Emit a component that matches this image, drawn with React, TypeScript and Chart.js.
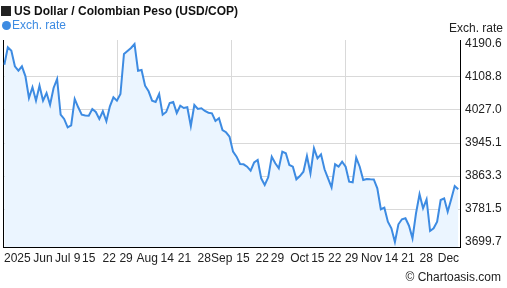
import React, { useEffect, useRef } from "react";
import { Chart, registerables } from "chart.js";

Chart.register(...registerables);

const rates = [
  4139.3, 4182.4, 4174.0, 4135.3, 4124.4, 4135.3, 4110.5, 4056.7, 4083.3, 4050.0,
  4087.2, 4050.0, 4069.1, 4040.1, 4081.5, 4103.8, 4015.3, 4004.7, 3984.1, 3989.0,
  4054.3, 4033.7, 4015.3, 4013.3, 4012.9, 4029.5, 4022.0, 4004.7, 4023.8, 3999.0,
  4036.2, 4058.5, 4050.0, 4066.6, 4165.8, 4173.3, 4180.7, 4190.6, 4124.4, 4126.2,
  4087.2, 4073.3, 4050.0, 4046.8, 4066.6, 4015.3, 4022.0, 4044.3, 4046.8, 4019.5,
  4037.6, 4031.9, 4033.7, 3987.3, 4039.4, 4029.5, 4031.2, 4024.5, 4020.3, 4018.8,
  3999.7, 4006.4, 3977.4, 3971.7, 3960.8, 3923.6, 3911.2, 3893.1, 3892.3, 3886.4,
  3876.5, 3897.3, 3903.0, 3857.6, 3841.0, 3860.1, 3911.2, 3894.8, 3882.4, 3923.6,
  3919.6, 3890.6, 3886.4, 3855.2, 3863.3, 3874.0, 3912.9, 3870.0, 3932.0, 3907.2,
  3917.1, 3880.0, 3857.6, 3835.3, 3892.3, 3886.4, 3898.8, 3886.4, 3849.2, 3847.7,
  3908.7, 3886.4, 3853.4, 3855.9, 3855.2, 3854.7, 3832.8, 3780.8, 3784.7, 3750.0,
  3733.7, 3699.7, 3743.6, 3756.0, 3758.5, 3740.1, 3708.9, 3770.9, 3818.0, 3783.3,
  3805.6, 3727.0, 3733.7, 3750.0, 3803.8, 3808.0, 3774.8, 3805.6, 3838.5, 3830.4,
];

const yTicks = [3699.7, 3781.5, 3863.3, 3945.1, 4027.0, 4108.8, 4190.6];
const yMin = 3687.3;
const yMax = 4200.5;

const xMin = -0.3;
const xMax = 129.5;
const xTickPos = [
  3.7, 11.0, 16.6, 20.7, 24.0, 29.8, 34.6, 40.6, 46.3, 51.2, 56.8, 61.8,
  67.8, 73.3, 77.6, 83.9, 89.1, 93.9, 98.7, 104.4, 110.0, 114.7, 119.9, 126.2,
];
const xTickLabels = [
  "2025", "Jun", "Jul", "9", "15", "22", "29", "Aug", "14", "21", "28", "Sep",
  "15", "22", "29", "Oct", "15", "22", "29", "Nov", "14", "21", "28", "Dec",
];
const gridDivisions = 4;

const FONT = "'Liberation Sans', Arial, Helvetica, sans-serif";
const LINE_COLOR = "#3d8be2";
const FILL_COLOR = "#ebf5ff";
const GRID_COLOR = "#d9d9d9";
const TEXT_COLOR = "#222222";

export default function App() {
  const canvasRef = useRef<HTMLCanvasElement | null>(null);

  useEffect(() => {
    const canvas = canvasRef.current;
    if (!canvas) return;
    const chart = new Chart(canvas, {
      type: "line",
      data: {
        datasets: [
          {
            label: "Exch. rate",
            data: rates.map((v, i) => ({ x: i, y: v })),
            borderColor: LINE_COLOR,
            backgroundColor: FILL_COLOR,
            borderWidth: 2,
            pointRadius: 0,
            tension: 0,
            fill: "start",
            xAxisID: "x",
            yAxisID: "y",
          },
        ],
      },
      options: {
        responsive: false,
        animation: false,
        events: [],
        layout: { padding: { top: 40, left: 0, right: 0, bottom: 0 } },
        plugins: {
          legend: { display: false },
          title: { display: false },
          tooltip: { enabled: false },
        },
        scales: {
          x: {
            type: "linear",
            position: "bottom",
            min: xMin,
            max: xMax,
            afterBuildTicks: (scale: any) => {
              scale.ticks = xTickPos.map((v) => ({ value: v }));
            },
            afterFit: (scale: any) => {
              scale.height = 41;
            },
            ticks: {
              autoSkip: false,
              maxRotation: 0,
              minRotation: 0,
              padding: 4,
              color: TEXT_COLOR,
              font: { family: FONT, size: 12 },
              callback: (_v: any, i: number) => xTickLabels[i],
            },
            grid: { display: false, drawTicks: false },
            border: { display: true, color: "#000000", width: 1 },
          },
          x2: {
            type: "linear",
            position: "bottom",
            min: xMin,
            max: xMax,
            afterBuildTicks: (scale: any) => {
              const t = [];
              for (let k = 1; k < gridDivisions; k++) {
                t.push({ value: xMin + ((xMax - xMin) * k) / gridDivisions });
              }
              scale.ticks = t;
            },
            afterFit: (scale: any) => {
              scale.height = 0;
            },
            ticks: { display: false },
            grid: { display: true, drawTicks: false, color: GRID_COLOR, lineWidth: 1 },
            border: { display: false },
          },
          y: {
            type: "linear",
            position: "right",
            min: yMin,
            max: yMax,
            afterBuildTicks: (scale: any) => {
              scale.ticks = yTicks.map((v) => ({ value: v }));
            },
            afterFit: (scale: any) => {
              scale.width = 47;
            },
            ticks: {
              padding: 5,
              color: TEXT_COLOR,
              font: { family: FONT, size: 12 },
              callback: (v: any) => Number(v).toFixed(1),
            },
            grid: {
              drawTicks: false,
              lineWidth: 1,
              color: (ctx: any) =>
                ctx.index === 0 || ctx.index === yTicks.length - 1
                  ? "rgba(0,0,0,0)"
                  : GRID_COLOR,
            },
            border: { display: true, color: "#000000", width: 1 },
          },
          yL: {
            type: "linear",
            position: "left",
            afterFit: (scale: any) => {
              scale.width = 0;
            },
            ticks: { display: false },
            grid: { display: false, drawTicks: false },
            border: { display: true, color: "#000000", width: 1 },
          },
        },
      } as any,
    });
    return () => chart.destroy();
  }, []);

  const textBase: React.CSSProperties = {
    position: "absolute",
    fontFamily: FONT,
    fontSize: 12,
    lineHeight: "14px",
    whiteSpace: "nowrap",
  };

  return (
    <div
      style={{
        position: "absolute",
        left: 0,
        top: 0,
        width: 507,
        height: 288,
        background: "#ffffff",
        overflow: "hidden",
      }}
    >
      <canvas
        ref={canvasRef}
        width={507}
        height={288}
        style={{ position: "absolute", left: 0, top: 0, width: 507, height: 288 }}
      />
      <div style={{ ...textBase, left: 1, top: 4, fontWeight: "bold", color: "#111" }}>
        <span
          style={{
            display: "inline-block",
            width: 10,
            height: 10,
            background: "#222",
            marginRight: 3,
            verticalAlign: "-1px",
          }}
        />
        US Dollar / Colombian Peso (USD/COP)
      </div>
      <div style={{ ...textBase, left: 2, top: 18, color: LINE_COLOR }}>
        <span
          style={{
            display: "inline-block",
            width: 9,
            height: 9,
            borderRadius: "50%",
            background: LINE_COLOR,
            marginRight: 1,
            verticalAlign: "-1px",
          }}
        />
        Exch. rate
      </div>
      <div style={{ ...textBase, right: 4, top: 21, color: TEXT_COLOR }}>Exch. rate</div>
      <div style={{ ...textBase, right: 6, top: 270, color: TEXT_COLOR }}>
        © Chartoasis.com
      </div>
    </div>
  );
}
